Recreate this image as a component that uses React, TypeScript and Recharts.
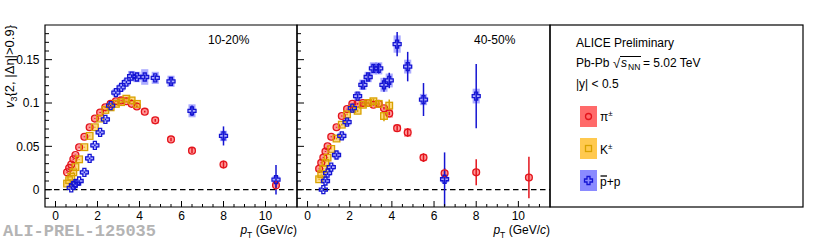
import React from 'react';
import { ScatterChart, Scatter, XAxis, YAxis, ErrorBar, ReferenceArea, ReferenceLine } from 'recharts';

const FONT = "'Liberation Sans', Arial, Helvetica, sans-serif";

// pT bin centres (GeV/c)
const PT_PI = [0.55, 0.65, 0.75, 0.85, 0.95, 1.125, 1.375, 1.625, 1.875, 2.125, 2.375, 2.625, 2.875, 3.125, 3.375, 3.625, 3.875, 4.25, 4.75, 5.5, 6.5, 8, 10.5];
const PT_K = [0.55, 0.65, 0.75, 0.85, 0.95, 1.125, 1.375, 1.625, 1.875, 2.125, 2.375, 2.625, 2.875, 3.125, 3.375, 3.625, 3.875];
const PT_P_1020 = [0.75, 0.85, 0.95, 1.125, 1.375, 1.625, 1.875, 2.125, 2.375, 2.625, 2.875, 3.125, 3.375, 3.625, 3.875, 4.25, 4.75, 5.5, 6.5, 8, 10.5];
const PT_P_4050 = [0.75, 0.85, 0.95, 1.125, 1.375, 1.625, 1.875, 2.125, 2.375, 2.625, 2.875, 3.125, 3.375, 3.625, 3.875, 4.25, 4.75, 5.5, 6.5, 8];

// 10-20%
const PI_1020 = [0.020, 0.025, 0.029, 0.035, 0.040, 0.049, 0.061, 0.072, 0.082, 0.089, 0.095, 0.099, 0.102, 0.103, 0.102, 0.099, 0.096, 0.090, 0.080, 0.058, 0.045, 0.029, 0.005];
const PI_1020_STAT = [0.0005, 0.0005, 0.0005, 0.0005, 0.0005, 0.0005, 0.0005, 0.0005, 0.0005, 0.0005, 0.0005, 0.0005, 0.0005, 0.0005, 0.0005, 0.0005, 0.001, 0.001, 0.0015, 0.002, 0.003, 0.0045, 0.003];
const PI_1020_SYS = [0.002, 0.002, 0.002, 0.002, 0.0025, 0.0025, 0.003, 0.003, 0.003, 0.003, 0.003, 0.003, 0.003, 0.003, 0.003, 0.003, 0.003, 0.0035, 0.004, 0.003, 0.003, 0.003, 0.002];
const K_1020 = [0.007, 0.011, 0.015, 0.020, 0.026, 0.035, 0.049, 0.062, 0.072, 0.082, 0.092, 0.095, 0.099, 0.101, 0.105, 0.103, 0.099];
const K_1020_STAT = [0.0005, 0.0005, 0.0005, 0.0005, 0.0005, 0.0005, 0.0005, 0.0005, 0.0005, 0.0005, 0.0005, 0.0005, 0.001, 0.001, 0.001, 0.0015, 0.002];
const K_1020_SYS = [0.003, 0.003, 0.003, 0.003, 0.003, 0.003, 0.003, 0.003, 0.003, 0.003, 0.003, 0.0035, 0.0035, 0.0035, 0.004, 0.004, 0.004];
const P_1020 = [0.002, 0.005, 0.007, 0.010, 0.020, 0.036, 0.051, 0.066, 0.081, 0.097, 0.112, 0.118, 0.124, 0.131, 0.130, 0.130, 0.129, 0.125, 0.091, 0.062, 0.0115];
const P_1020_STAT = [0.001, 0.001, 0.001, 0.001, 0.001, 0.001, 0.001, 0.001, 0.001, 0.001, 0.0015, 0.0015, 0.0015, 0.002, 0.002, 0.003, 0.003, 0.004, 0.006, 0.011, 0.017];
const P_1020_SYS = [0.002, 0.002, 0.002, 0.002, 0.003, 0.003, 0.003, 0.003, 0.003, 0.004, 0.004, 0.004, 0.004, 0.006, 0.006, 0.009, 0.007, 0.0065, 0.0075, 0.006, 0.004];

// 40-50%
const PI_4050 = [0.024, 0.031, 0.037, 0.044, 0.050, 0.061, 0.072, 0.085, 0.093, 0.099, 0.099, 0.100, 0.100, 0.098, 0.099, 0.094, 0.088, 0.071, 0.066, 0.037, 0.019, 0.020, 0.014];
const PI_4050_STAT = [0.0005, 0.0005, 0.0005, 0.0005, 0.0005, 0.0005, 0.0005, 0.0005, 0.0005, 0.0005, 0.001, 0.001, 0.001, 0.001, 0.0015, 0.0015, 0.002, 0.003, 0.005, 0.005, 0.006, 0.015, 0.024];
const PI_4050_SYS = [0.003, 0.003, 0.003, 0.003, 0.003, 0.003, 0.003, 0.003, 0.003, 0.003, 0.003, 0.003, 0.003, 0.003, 0.003, 0.003, 0.005, 0.004, 0.005, 0.004, 0.003, 0.003, 0.003];
const K_4050 = [0.012, 0.018, 0.024, 0.031, 0.037, 0.047, 0.059, 0.075, 0.087, 0.093, 0.091, 0.098, 0.100, 0.102, 0.099, 0.085, 0.097];
const K_4050_STAT = [0.0005, 0.0005, 0.0005, 0.0005, 0.0005, 0.0005, 0.001, 0.001, 0.001, 0.0015, 0.0015, 0.002, 0.002, 0.003, 0.004, 0.006, 0.007];
const K_4050_SYS = [0.003, 0.003, 0.003, 0.003, 0.003, 0.003, 0.003, 0.003, 0.003, 0.0035, 0.0035, 0.004, 0.004, 0.004, 0.004, 0.004, 0.004];
const P_4050 = [0.000, 0.010, 0.019, 0.026, 0.040, 0.062, 0.078, 0.094, 0.108, 0.121, 0.130, 0.140, 0.140, 0.121, 0.126, 0.168, 0.142, 0.104, 0.012, 0.108];
const P_4050_STAT = [0.002, 0.002, 0.002, 0.002, 0.002, 0.002, 0.003, 0.003, 0.003, 0.004, 0.004, 0.005, 0.006, 0.008, 0.009, 0.014, 0.017, 0.019, 0.031, 0.037];
const P_4050_SYS = [0.002, 0.003, 0.003, 0.003, 0.004, 0.004, 0.004, 0.005, 0.005, 0.006, 0.006, 0.007, 0.007, 0.008, 0.008, 0.010, 0.008, 0.0065, 0.004, 0.0085];

const X_TICKS = [0, 0.5, 1, 1.5, 2, 2.5, 3, 3.5, 4, 4.5, 5, 5.5, 6, 6.5, 7, 7.5, 8, 8.5, 9, 9.5, 10, 10.5, 11];
const Y_TICKS = [-0.01, 0, 0.01, 0.02, 0.03, 0.04, 0.05, 0.06, 0.07, 0.08, 0.09, 0.1, 0.11, 0.12, 0.13, 0.14, 0.15, 0.16, 0.17, 0.18];

const RED = '#e3141c';
const GOLD = '#d9a200';
const BLUE = '#1414d2';
const RED_BOX = '#ff6a6a';
const GOLD_BOX = '#ffc94f';
const BLUE_BOX = '#8a8aff';

type Pt = { x: number; y: number; err: number; sys: number };
const toPoints = (pt: number[], v: number[], stat: number[], sys: number[]): Pt[] =>
  pt.map((x, i) => ({ x, y: v[i], err: stat[i], sys: sys[i] }));

const BOX_DX = 0.17;

const XTick = (props: any) => {
  const { x, y, payload } = props;
  const v = payload.value;
  const major = v % 2 === 0;
  return (
    <g>
      <line x1={x} x2={x} y1={y} y2={y - (major ? 6 : 3)} stroke="#000" />
      {major && (
        <text x={x} y={y + 13} textAnchor="middle" fontSize={12} fontFamily={FONT} fill="#000">
          {String(v)}
        </text>
      )}
    </g>
  );
};

const YTick = (props: any) => {
  const { x, y, payload, showLabel } = props;
  const v = payload.value;
  const major = Math.round(v * 100) % 5 === 0;
  return (
    <g>
      <line x1={x} x2={x + (major ? 7 : 4)} y1={y} y2={y} stroke="#000" />
      {major && showLabel && (
        <text x={x - 5.5} y={y + 4.3} textAnchor="end" fontSize={12} fontFamily={FONT} fill="#000">
          {String(v)}
        </text>
      )}
    </g>
  );
};

const circleShape = (p: any) => <circle cx={p.cx} cy={p.cy} r={3.4} fill="none" stroke={RED} strokeWidth={1.3} />;
const squareShape = (p: any) => <rect x={p.cx - 3.3} y={p.cy - 3.3} width={6.6} height={6.6} fill="none" stroke={GOLD} strokeWidth={1.3} />;
const crossShape = (p: any) => {
  const a = 1.5;
  const b = 4;
  const { cx, cy } = p;
  const pts = [
    [cx - a, cy - b], [cx + a, cy - b], [cx + a, cy - a], [cx + b, cy - a], [cx + b, cy + a], [cx + a, cy + a],
    [cx + a, cy + b], [cx - a, cy + b], [cx - a, cy + a], [cx - b, cy + a], [cx - b, cy - a], [cx - a, cy - a],
  ].map((q) => q.join(',')).join(' ');
  return <polygon points={pts} fill="none" stroke={BLUE} strokeWidth={1.3} />;
};

const boxes = (data: Pt[], color: string, key: string) =>
  data.map((d, i) => (
    <ReferenceArea
      key={`${key}-${i}`}
      x1={d.x - BOX_DX}
      x2={d.x + BOX_DX}
      y1={d.y - d.sys}
      y2={d.y + d.sys}
      fill={color}
      fillOpacity={0.7}
      stroke="none"
      ifOverflow="hidden"
    />
  ));

interface PanelProps {
  left: number;
  width: number;
  yAxisWidth: number;
  showYLabels: boolean;
  pi: Pt[];
  k: Pt[];
  p: Pt[];
}

const Panel: React.FC<PanelProps> = ({ left, width, yAxisWidth, showYLabels, pi, k, p }) => (
  <div style={{ position: 'absolute', left, top: 0 }}>
    <ScatterChart width={width} height={240} margin={{ top: 25, right: 3, bottom: 0, left: 0 }}>
      <XAxis
        type="number"
        dataKey="x"
        domain={[-0.5, 11.5]}
        ticks={X_TICKS}
        interval={0}
        allowDataOverflow
        height={33}
        axisLine={false}
        tickLine={false}
        tickSize={0}
        tickMargin={0}
        tick={(props: any) => <XTick {...props} />}
      />
      <YAxis
        type="number"
        dataKey="y"
        domain={[-0.02, 0.19]}
        ticks={Y_TICKS}
        interval={0}
        allowDataOverflow
        width={yAxisWidth}
        axisLine={false}
        tickLine={false}
        tickSize={0}
        tickMargin={0}
        tick={(props: any) => <YTick {...props} showLabel={showYLabels} />}
      />
      {boxes(pi, RED_BOX, 'pi')}
      {boxes(k, GOLD_BOX, 'k')}
      {boxes(p, BLUE_BOX, 'p')}
      <ReferenceLine y={0} stroke="#000" strokeWidth={1.2} strokeDasharray="5.5 3.5" />
      <Scatter data={pi} shape={circleShape} isAnimationActive={false}>
        <ErrorBar dataKey="err" direction="y" width={0} stroke={RED} strokeWidth={1.5} />
      </Scatter>
      <Scatter data={k} shape={squareShape} isAnimationActive={false}>
        <ErrorBar dataKey="err" direction="y" width={0} stroke={GOLD} strokeWidth={1.5} />
      </Scatter>
      <Scatter data={p} shape={crossShape} isAnimationActive={false}>
        <ErrorBar dataKey="err" direction="y" width={0} stroke={BLUE} strokeWidth={1.5} />
      </Scatter>
      <ReferenceArea x1={-0.5} x2={11.5} y1={-0.02} y2={0.19} fill="none" stroke="#000" strokeWidth={1.2} />
    </ScatterChart>
  </div>
);

const PtTitle = ({ x }: { x: number }) => (
  <text x={x} y={234} textAnchor="end" fontSize={12} fontFamily={FONT} fill="#000">
    <tspan fontStyle="italic">p</tspan>
    <tspan fontSize={8.5} dy={3.5}>T</tspan>
    <tspan dy={-3.5}> (GeV/</tspan>
    <tspan fontStyle="italic">c</tspan>
    <tspan>)</tspan>
  </text>
);

const App: React.FC = () => {
  const pi1 = toPoints(PT_PI, PI_1020, PI_1020_STAT, PI_1020_SYS);
  const k1 = toPoints(PT_K, K_1020, K_1020_STAT, K_1020_SYS);
  const p1 = toPoints(PT_P_1020, P_1020, P_1020_STAT, P_1020_SYS);
  const pi2 = toPoints(PT_PI, PI_4050, PI_4050_STAT, PI_4050_SYS);
  const k2 = toPoints(PT_K, K_4050, K_4050_STAT, K_4050_SYS);
  const p2 = toPoints(PT_P_4050, P_4050, P_4050_STAT, P_4050_SYS);

  return (
    <div style={{ position: 'absolute', left: 0, top: 0, width: 830, height: 240, background: '#fff', overflow: 'hidden' }}>
      <Panel left={0} width={300} yAxisWidth={45} showYLabels pi={pi1} k={k1} p={p1} />
      <Panel left={290} width={263} yAxisWidth={7} showYLabels={false} pi={pi2} k={k2} p={p2} />
      <svg width={830} height={240} style={{ position: 'absolute', left: 0, top: 0, pointerEvents: 'none' }}>
        {/* y title */}
        <text transform="translate(13.5,25) rotate(-90)" textAnchor="end" fontSize={13} fontFamily={FONT} fill="#000">
          <tspan fontStyle="italic">v</tspan>
          <tspan fontSize={9} dy={3}>3</tspan>
          <tspan dy={-3}>{'{2, |Δη|>0.9}'}</tspan>
        </text>
        <PtTitle x={297} />
        <PtTitle x={550} />
        <text x={208} y={44} fontSize={12} fontFamily={FONT} fill="#000">10-20%</text>
        <text x={474} y={44} fontSize={12} fontFamily={FONT} fill="#000">40-50%</text>
        <text x={3} y={236} fontSize={17} fontWeight="bold" fontFamily="'Liberation Mono', 'DejaVu Sans Mono', monospace" fill="#b4b4b4">
          ALI-PREL-125035
        </text>

        {/* legend panel */}
        <rect x={550} y={25} width={253} height={182} fill="none" stroke="#000" strokeWidth={1.2} />
        <text x={576} y={46.5} fontSize={12} fontFamily={FONT} fill="#000">ALICE Preliminary</text>
        <text x={576} y={67} fontSize={12} fontFamily={FONT} fill="#000">Pb-Pb</text>
        <text x={613} y={68} fontSize={13} fontFamily={FONT} fill="#000">√</text>
        <line x1={620} x2={641} y1={56.5} y2={56.5} stroke="#000" strokeWidth={1} />
        <text x={621} y={67} fontSize={12} fontStyle="italic" fontFamily={FONT} fill="#000">s</text>
        <text x={628} y={70} fontSize={8.5} fontFamily={FONT} fill="#000">NN</text>
        <text x={643} y={67} fontSize={12} fontFamily={FONT} fill="#000">= 5.02 TeV</text>
        <text x={576} y={88} fontSize={12} fontFamily={FONT} fill="#000">|y| &lt; 0.5</text>

        <rect x={580} y={106} width={17} height={21} fill={RED_BOX} />
        <circle cx={588.5} cy={116.5} r={3} fill="none" stroke={RED} strokeWidth={1.3} />
        <text x={600} y={121} fontSize={12} fontFamily={FONT} fill="#000">
          π<tspan fontSize={8} dy={-5}>±</tspan>
        </text>

        <rect x={580} y={138} width={17} height={21} fill={GOLD_BOX} />
        <rect x={585.5} y={145.5} width={6} height={6} fill="none" stroke={GOLD} strokeWidth={1.3} />
        <text x={600} y={154} fontSize={12} fontFamily={FONT} fill="#000">
          K<tspan fontSize={8} dy={-5}>±</tspan>
        </text>

        <rect x={580} y={170} width={17} height={21} fill={BLUE_BOX} />
        {crossShape({ cx: 588.5, cy: 180.5 })}
        <line x1={600.5} x2={607} y1={176} y2={176} stroke="#000" strokeWidth={1.3} />
        <text x={600} y={186} fontSize={12} fontFamily={FONT} fill="#000">p+p</text>
      </svg>
    </div>
  );
};

export default App;
